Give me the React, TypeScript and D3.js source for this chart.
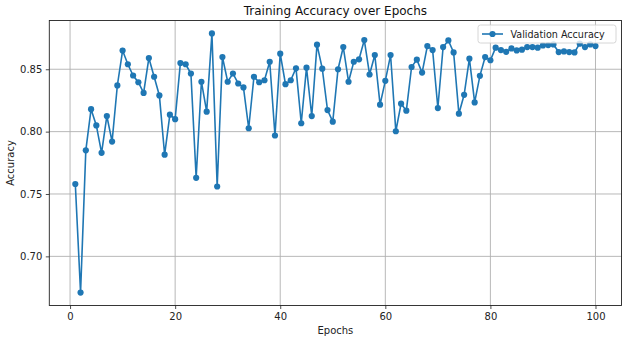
import React, { useRef, useEffect } from 'react';
import * as d3 from 'd3';

// validation accuracy per epoch (1..100)
const epochs = d3.range(1, 101);
const valAccuracy = [
  0.758, 0.671, 0.785, 0.818, 0.805, 0.783, 0.8125, 0.792, 0.837, 0.865,
  0.854, 0.845, 0.8396, 0.831, 0.859, 0.844, 0.829, 0.7815, 0.8136, 0.81,
  0.855, 0.854, 0.8466, 0.763, 0.84, 0.816, 0.8787, 0.756, 0.8598, 0.84,
  0.8466, 0.8386, 0.8354, 0.8027, 0.844, 0.8396, 0.8412, 0.856, 0.7969, 0.8625,
  0.838, 0.8412, 0.8508, 0.8067, 0.8513, 0.8125, 0.8697, 0.8505, 0.8173, 0.808,
  0.85, 0.8678, 0.84, 0.856, 0.858, 0.8734, 0.8458, 0.8614, 0.8216, 0.8407,
  0.8614, 0.8003, 0.8224, 0.8168, 0.8518, 0.8577, 0.8473, 0.8686, 0.8654, 0.8189,
  0.8678, 0.8731, 0.8635, 0.8144, 0.8295, 0.8585, 0.8234, 0.8447, 0.8598, 0.8572,
  0.8673, 0.8654, 0.864, 0.8667, 0.8651, 0.8657, 0.8678, 0.8678, 0.8673, 0.8691,
  0.8694, 0.8699, 0.8638, 0.8643, 0.8638, 0.8635, 0.8705, 0.8678, 0.8699, 0.8686
];
const xTicks = [0, 20, 40, 60, 80, 100];
const yTicks = [0.7, 0.75, 0.8, 0.85];

const BLUE = '#1f77b4';
const FONT = 'DejaVu Sans, sans-serif';

const App: React.FC = () => {
  const ref = useRef<SVGSVGElement | null>(null);

  useEffect(() => {
    const width = 626;
    const height = 341;
    const m = { left: 49.3, right: 621.5, top: 20.5, bottom: 305.5 };
    const data = epochs.map((e, i) => ({ epoch: e, acc: valAccuracy[i] }));

    const svg = d3.select(ref.current);
    svg.selectAll('*').remove();
    svg.attr('width', width).attr('height', height);

    // matplotlib-like 5% margins
    const [x0, x1] = d3.extent(epochs) as [number, number];
    const [y0, y1] = d3.extent(valAccuracy) as [number, number];
    const xPad = (x1 - x0) * 0.05;
    const yPad = (y1 - y0) * 0.05;
    const x = d3.scaleLinear().domain([x0 - xPad, x1 + xPad]).range([m.left, m.right]);
    const y = d3.scaleLinear().domain([y0 - yPad, y1 + yPad]).range([m.bottom, m.top]);

    svg.append('rect').attr('width', width).attr('height', height).attr('fill', 'white');

    // grid
    const grid = svg.append('g').attr('stroke', '#b0b0b0').attr('stroke-width', 0.9);
    xTicks.forEach((t) => {
      grid.append('line').attr('x1', x(t)).attr('x2', x(t)).attr('y1', m.top).attr('y2', m.bottom);
    });
    yTicks.forEach((t) => {
      grid.append('line').attr('x1', m.left).attr('x2', m.right).attr('y1', y(t)).attr('y2', y(t));
    });

    // axes
    const xAxis = d3.axisBottom(x).tickValues(xTicks).tickFormat(d3.format('d')).tickSize(3.5).tickPadding(3.5);
    const yAxis = d3.axisLeft(y).tickValues(yTicks).tickFormat(d3.format('.2f')).tickSize(3.5).tickPadding(3.5);
    const gx = svg.append('g').attr('transform', `translate(0,${m.bottom})`).call(xAxis);
    const gy = svg.append('g').attr('transform', `translate(${m.left},0)`).call(yAxis);
    [gx, gy].forEach((g) => {
      g.select('.domain').remove();
      g.selectAll('text').attr('font-family', FONT).attr('font-size', 10).attr('fill', '#222');
      g.selectAll('line').attr('stroke', '#222').attr('stroke-width', 0.8);
    });

    // line + markers
    const line = d3.line<{ epoch: number; acc: number }>()
      .x((d) => x(d.epoch))
      .y((d) => y(d.acc));
    svg.append('path')
      .datum(data)
      .attr('fill', 'none')
      .attr('stroke', BLUE)
      .attr('stroke-width', 1.6)
      .attr('d', line as any);
    svg.append('g').selectAll('circle')
      .data(data)
      .join('circle')
      .attr('cx', (d) => x(d.epoch))
      .attr('cy', (d) => y(d.acc))
      .attr('r', 3.1)
      .attr('fill', BLUE);

    // frame
    svg.append('rect')
      .attr('x', m.left).attr('y', m.top)
      .attr('width', m.right - m.left).attr('height', m.bottom - m.top)
      .attr('fill', 'none').attr('stroke', '#222').attr('stroke-width', 0.9);

    // titles
    svg.append('text')
      .attr('x', (m.left + m.right) / 2).attr('y', 15)
      .attr('text-anchor', 'middle').attr('font-family', FONT).attr('font-size', 12)
      .attr('fill', '#111').text('Training Accuracy over Epochs');
    svg.append('text')
      .attr('x', (m.left + m.right) / 2).attr('y', 334)
      .attr('text-anchor', 'middle').attr('font-family', FONT).attr('font-size', 10)
      .attr('fill', '#222').text('Epochs');
    svg.append('text')
      .attr('transform', `translate(14,${(m.top + m.bottom) / 2}) rotate(-90)`)
      .attr('text-anchor', 'middle').attr('font-family', FONT).attr('font-size', 10)
      .attr('fill', '#222').text('Accuracy');

    // legend
    const lg = svg.append('g').attr('transform', 'translate(478,25)');
    lg.append('rect')
      .attr('width', 138).attr('height', 18).attr('rx', 2.5)
      .attr('fill', 'white').attr('fill-opacity', 0.8)
      .attr('stroke', '#cccccc').attr('stroke-width', 0.8);
    lg.append('line').attr('x1', 4).attr('x2', 25).attr('y1', 9).attr('y2', 9)
      .attr('stroke', BLUE).attr('stroke-width', 1.6);
    lg.append('circle').attr('cx', 14.5).attr('cy', 9).attr('r', 3.1).attr('fill', BLUE);
    lg.append('text').attr('x', 32.5).attr('y', 12.5)
      .attr('font-family', FONT).attr('font-size', 9.6).attr('fill', '#222')
      .text('Validation Accuracy');
  }, []);

  return <svg ref={ref} style={{ position: 'absolute', left: 0, top: 0 }} />;
};

export default App;
